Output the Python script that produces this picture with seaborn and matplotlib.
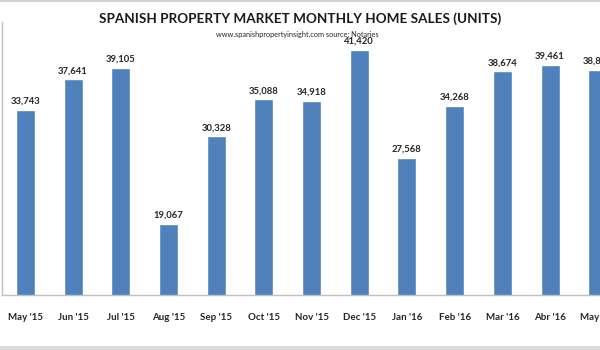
import matplotlib
matplotlib.use("Agg")
import matplotlib.pyplot as plt
import seaborn as sns
import pandas as pd
from matplotlib.patches import Rectangle

months = ["May '15", "Jun '15", "Jul '15", "Aug '15", "Sep '15", "Oct '15", "Nov '15",
          "Dec '15", "Jan '16", "Feb '16", "Mar '16", "Abr '16", "May '16"]
sales = [33743, 37641, 39105, 19067, 30328, 35088, 34918, 41420, 27568, 34268, 38674, 39461, 38840]

title = "SPANISH PROPERTY MARKET MONTHLY HOME SALES (UNITS)"
subtitle = "www.spanishpropertyinsight.com source: Notaries"

sns.set_theme(style="white")
plt.rcParams['font.family'] = ['Lato', 'DejaVu Sans']

df = pd.DataFrame({"month": months, "sales": sales})

fig = plt.figure(figsize=(6, 3.5), dpi=100)
fig.patch.set_facecolor("white")
# axes extends beyond the right edge (chart is cropped)
ax = fig.add_axes([1.5 / 600, 55 / 350, 13 * 47.7 / 600, 273 / 350])
sns.barplot(data=df, x="month", y="sales", color="#4F81BD", saturation=1,
            width=0.4, ax=ax)
ax.set_xlim(-0.5, 12.5)
ax.set_ylim(10000, 45000)
ax.set_xlabel("")
ax.set_ylabel("")
ax.set_yticks([])
ax.tick_params(axis="x", length=0, pad=13, labelsize=7, colors="#262626")
for lbl in ax.get_xticklabels():
    lbl.set_fontweight("bold")
for s in ["top", "right"]:
    ax.spines[s].set_visible(False)
for s in ["left", "bottom"]:
    ax.spines[s].set_color("#c0c0c0")
    ax.spines[s].set_linewidth(1.0)

for i, v in enumerate(sales):
    ax.annotate(f"{v:,}", (i, v), xytext=(0, 3), textcoords="offset points",
                ha="center", va="bottom", fontsize=6.8, fontweight="bold",
                color="#262626")

fig.text(0.5, 1 - 19 / 350, title, ha="center", va="center", fontsize=9.7,
         fontweight="bold", color="#1a1a1a")
fig.text(0.495, 1 - 34 / 350, subtitle, ha="center", va="center", fontsize=5.3,
         color="#262626")

# light grey frame strips at top and bottom (screenshot border)
fig.add_artist(Rectangle((0, 1 - 2 / 350), 1, 2 / 350, transform=fig.transFigure,
                         color="#d0d0d0", lw=0))
fig.add_artist(Rectangle((0, 0), 1, 4 / 350, transform=fig.transFigure,
                         color="#d9d9d9", lw=0))

fig.savefig("out.png", dpi=100)
